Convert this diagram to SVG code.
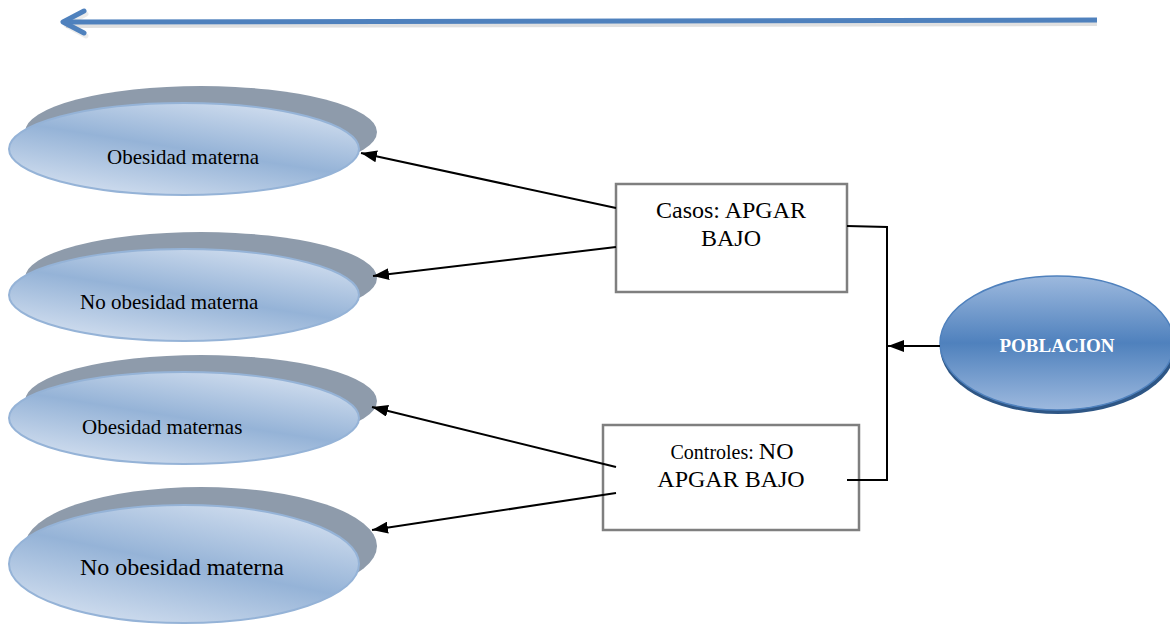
<svg xmlns="http://www.w3.org/2000/svg" width="1170" height="626" viewBox="0 0 1170 626">
<style>
.shadow{fill:#8E9BAB}
.front{fill:url(#gEll);stroke:#95B3D7;stroke-width:2}
.lbl{font-family:"Liberation Serif",serif;fill:#000}
.box{fill:#fff;stroke:#7F7F7F;stroke-width:2.5}
.con{fill:none;stroke:#000;stroke-width:2}
</style>
<defs>
<linearGradient id="gEll" x1="0.8" y1="0" x2="0.2" y2="1">
<stop offset="0" stop-color="#D4E0F0"/>
<stop offset="0.5" stop-color="#95B3D7"/>
<stop offset="1" stop-color="#D4E0F0"/>
</linearGradient>
<linearGradient id="gPob" x1="0" y1="0" x2="0" y2="1">
<stop offset="0" stop-color="#9DB9DE"/>
<stop offset="0.5" stop-color="#4F81BD"/>
<stop offset="1" stop-color="#9DB9DE"/>
</linearGradient>
<marker id="ah2" viewBox="0 0 16 12" refX="16" refY="6" markerWidth="16" markerHeight="12" markerUnits="userSpaceOnUse" orient="auto">
<path d="M0,0 L16,6 L0,12 Z" fill="#000"/>
</marker>
</defs>

<g id="top-arrow">
<path d="M1097,23 L66,25" stroke="#000" stroke-opacity="0.12" stroke-width="6" fill="none"/>
<path d="M86,14 L66,25 L86,36" stroke="#000" stroke-opacity="0.08" stroke-width="5" fill="none" stroke-linecap="round" stroke-linejoin="round"/>
<path d="M1097,20 L64,22" stroke="#4F81BD" stroke-width="5" fill="none"/>
<path d="M84,11 L63,22 L84,33" stroke="#4F81BD" stroke-width="5" fill="none" stroke-linecap="round" stroke-linejoin="round"/>
</g>

<g id="ell1">
<ellipse class="shadow" cx="201" cy="132" rx="176" ry="46"/>
<ellipse class="front" cx="184" cy="149" rx="175" ry="46"/>
<text class="lbl" x="107" y="164" font-size="21">Obesidad materna</text>
</g>
<g id="ell2">
<ellipse class="shadow" cx="201" cy="278" rx="176" ry="46"/>
<ellipse class="front" cx="184" cy="295" rx="175" ry="46"/>
<text class="lbl" x="80" y="309" font-size="21">No obesidad materna</text>
</g>
<g id="ell3">
<ellipse class="shadow" cx="201" cy="401" rx="176" ry="46"/>
<ellipse class="front" cx="184" cy="418" rx="175" ry="46"/>
<text class="lbl" x="82" y="434" font-size="21">Obesidad maternas</text>
</g>
<g id="ell4">
<ellipse class="shadow" cx="201" cy="546" rx="176" ry="59"/>
<ellipse class="front" cx="184" cy="564" rx="175" ry="59"/>
<text class="lbl" x="80" y="575" font-size="24">No obesidad materna</text>
</g>

<g id="casos">
<rect class="box" x="616" y="184" width="231" height="108"/>
<text class="lbl" x="731" y="218" font-size="24" text-anchor="middle">Casos: APGAR</text>
<text class="lbl" x="731" y="246" font-size="24" text-anchor="middle">BAJO</text>
</g>
<g id="controles">
<rect class="box" x="603" y="425" width="256" height="105"/>
<text class="lbl" x="732" y="459" text-anchor="middle"><tspan font-size="20">Controles: </tspan><tspan font-size="24">NO</tspan></text>
<text class="lbl" x="731" y="487" font-size="24" text-anchor="middle">APGAR BAJO</text>
</g>

<g id="poblacion">
<ellipse cx="1058" cy="347" rx="118" ry="67" fill="#2E5685"/>
<ellipse cx="1057" cy="343" rx="117" ry="67" fill="url(#gPob)" stroke="#4F81BD" stroke-width="1.5"/>
<text x="1057" y="352" font-family="'Liberation Serif',serif" font-weight="bold" font-size="19" fill="#fff" text-anchor="middle">POBLACION</text>
</g>

<g id="connectors">
<path class="con" d="M616,208 L361,153" marker-end="url(#ah2)"/>
<path class="con" d="M616,247 L373,276" marker-end="url(#ah2)"/>
<path class="con" d="M616,467 L372,407" marker-end="url(#ah2)"/>
<path class="con" d="M616,493 L372,530" marker-end="url(#ah2)"/>
<path class="con" d="M847,226 L887,227 L887,480 L847,480"/>
<path class="con" d="M940,346 L888,346" marker-end="url(#ah2)"/>
</g>
</svg>
